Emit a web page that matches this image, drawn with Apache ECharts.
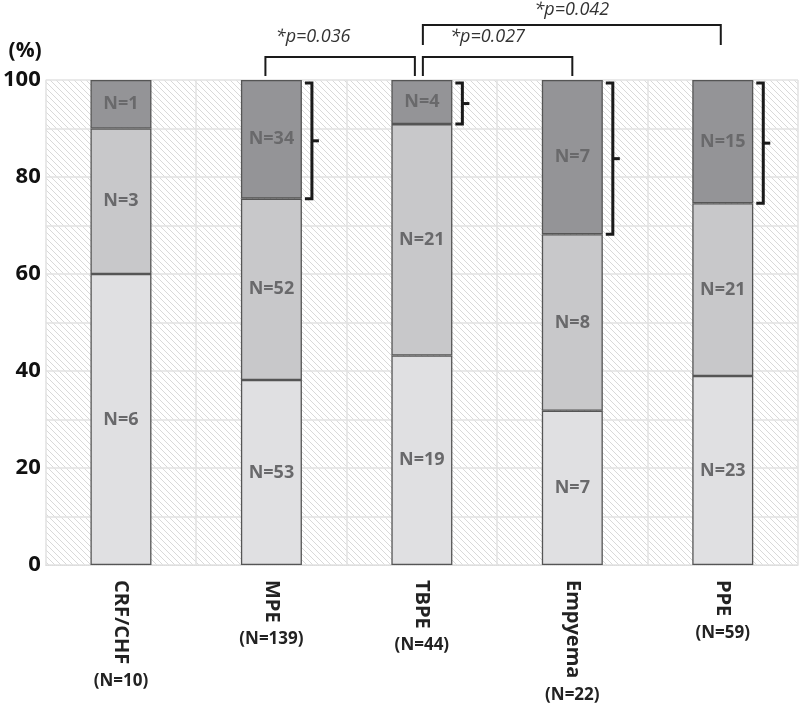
<!DOCTYPE html>
<html><head><meta charset="utf-8">
<script src="https://cdn.jsdelivr.net/npm/echarts@6/dist/echarts.min.js"></script>
<style>html,body{margin:0;padding:0;background:#fff}#c{width:800px;height:711px}</style>
</head><body><div id="c"></div>
<script>
// ---- data ----
var categories = ['CRF/CHF', 'MPE', 'TBPE', 'Empyema', 'PPE'];
var totals = [10, 139, 44, 22, 59];
var lowN = [6, 53, 19, 7, 23];
var midN = [3, 52, 21, 8, 21];
var highN = [1, 34, 4, 7, 15];
var yTicks = [0, 20, 40, 60, 80, 100];
var bracketCats = [1, 2, 3, 4];
var sigPairs = [[1, 2, 0, '0.036'], [2, 3, 0, '0.027'], [2, 4, 1, '0.042']];

function pct(arr) { return arr.map(function (v, i) { return v / (lowN[i] + midN[i] + highN[i]) * 100; }); }
var lowP = pct(lowN), midP = pct(midN), highP = pct(highN);

// hatch pattern
var pc = document.createElement('canvas');
pc.width = 6; pc.height = 6;
var g = pc.getContext('2d');
g.fillStyle = '#ffffff'; g.fillRect(0, 0, 6, 6);
g.strokeStyle = '#d9d9d9'; g.lineWidth = 1;
g.beginPath();
g.moveTo(-1, -1); g.lineTo(7, 7);
g.moveTo(-4, 2); g.lineTo(4, 10);
g.moveTo(2, -4); g.lineTo(10, 4);
g.stroke();

var FONT = '"Open Sans", "Noto Sans", sans-serif';
var chart = echarts.init(document.getElementById('c'));
var GRID = { left: 43, right: 2, top: 80, bottom: 146 };

function segSeries(name, pData, nData, color) {
  return {
    name: name, type: 'bar', stack: 's', barWidth: 61,
    data: pData,
    itemStyle: { color: color, borderColor: '#555', borderWidth: 1.3 },
    label: {
      show: true, position: 'inside',
      formatter: function (p) { return 'N=' + nData[p.dataIndex]; },
      color: '#69696b', fontWeight: 'bold', fontSize: 18, fontFamily: FONT
    },
    z: 3
  };
}

var bracketData = bracketCats.map(function (i) { return [i, lowP[i] + midP[i], 100]; });

var option = {
  animation: false,
  grid: Object.assign({ show: true, backgroundColor: { image: pc, repeat: 'repeat' }, borderWidth: 0 }, GRID),
  xAxis: {
    type: 'category', data: categories,
    axisLine: { show: true, lineStyle: { color: '#dcdcdc', width: 1, type: 'dotted' } },
    axisTick: { show: false },
    splitLine: { show: true, lineStyle: { color: '#e2e2e2', width: 1.5 } },
    axisLabel: { rotate: -90, margin: 15, color: '#222', fontWeight: 'bold', fontSize: 20, fontFamily: FONT }
  },
  yAxis: {
    type: 'value', min: 0, max: 100, interval: 10,
    name: '(%)', nameGap: 18, nameLocation: 'end',
    nameTextStyle: { color: '#111', fontWeight: 'bold', fontSize: 21, fontFamily: FONT, align: 'right', padding: [0, 4, 0, 0] },
    axisLine: { show: false }, axisTick: { show: false },
    splitLine: { show: true, lineStyle: { color: '#e2e2e2', width: 1.5 } },
    axisLabel: {
      margin: 5, color: '#111', fontWeight: 'bold', fontSize: 22, fontFamily: FONT,
      formatter: function (v) { return yTicks.indexOf(v) >= 0 ? String(v) : ''; }
    }
  },
  series: [
    segSeries('low', lowP, lowN, '#e0e0e2'),
    segSeries('mid', midP, midN, '#c8c8ca'),
    segSeries('high', highP, highN, '#949497'),
    {
      type: 'custom', z: 5, silent: true,
      data: bracketData,
      renderItem: function (params, api) {
        var i = api.value(0);
        var c = api.coord([i, 0]);
        var right = c[0] + 30.5;
        var yb = api.coord([i, api.value(1)])[1];
        var yt = api.coord([i, api.value(2)])[1] + 3;
        var vx = right + 10;
        var ym = (yb + yt) / 2;
        return {
          type: 'group',
          children: [
            { type: 'polyline',
              shape: { points: [[right + 3, yt], [vx, yt], [vx, yb], [right + 3, yb]] },
              style: { stroke: '#1a1a1a', lineWidth: 3, fill: null } },
            { type: 'line',
              shape: { x1: vx, y1: ym, x2: vx + 7, y2: ym },
              style: { stroke: '#1a1a1a', lineWidth: 3 } }
          ]
        };
      }
    },
    {
      type: 'custom', z: 6, silent: true, clip: false,
      data: sigPairs,
      renderItem: function (params, api) {
        var a = api.value(0), b = api.value(1), lvl = api.value(2);
        var p = sigPairs[params.dataIndex][3];
        var top = api.coord([a, 100])[1];
        var xa = api.coord([a, 100])[0], xb = api.coord([b, 100])[0];
        var toff = 0;
        if (lvl === 0) {
          if (b === 2) { xb -= 7; xa -= 6; toff = -27; }
          if (a === 2) { xa += 1; toff = -10; }
        } else { xa += 1; xb -= 2; }
        var yh = lvl === 0 ? top - 23 : top - 55;
        var yl = lvl === 0 ? top - 4 : top - 35;
        var tx = (xa + xb) / 2 + toff;
        var ty = lvl === 0 ? yh - 20 : yh - 15;
        return {
          type: 'group',
          children: [
            { type: 'polyline', shape: { points: [[xa, yl], [xa, yh], [xb, yh], [xb, yl]] },
              style: { stroke: '#1a1a1a', lineWidth: 2, fill: null } },
            { type: 'text', x: tx, y: ty,
              style: { text: '*p=' + p, fill: '#333', font: 'italic 18px ' + FONT, align: 'center', verticalAlign: 'middle' } }
          ]
        };
      }
    }
  ]
};
chart.setOption(option);

// (N=..) labels under rotated category names
var mc = document.createElement('canvas').getContext('2d');
mc.font = 'bold 20px ' + FONT;
var axisY = 711 - GRID.bottom;
var gr = categories.map(function (c, i) {
  var x = chart.convertToPixel({ xAxisIndex: 0 }, c);
  var w = mc.measureText(c).width;
  return {
    type: 'text', x: x, y: axisY + 15 + w + 8,
    style: { text: '(N=' + totals[i] + ')', fill: '#222', font: 'bold 17px ' + FONT, align: 'center', verticalAlign: 'top' }
  };
});
chart.setOption({ graphic: gr });
</script>
</body></html>
